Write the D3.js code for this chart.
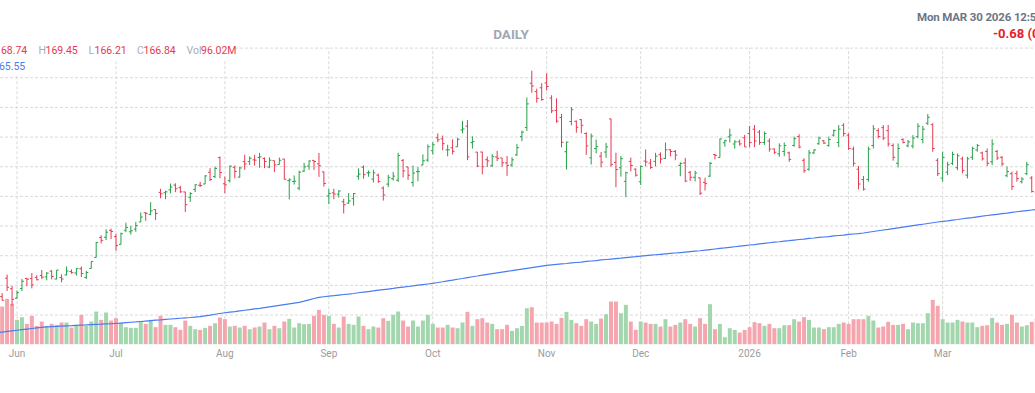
<!DOCTYPE html>
<html><head><meta charset="utf-8">
<script src="https://cdn.jsdelivr.net/npm/d3@7"></script>
<style>
html,body{margin:0;padding:0;background:#fff;overflow:hidden}
svg{display:block;font-family:Roboto,"Noto Sans",sans-serif}
</style>
</head><body>
<svg id="c" width="1035" height="393"></svg>
<script>
// ---------- DATA ----------
const dates = [
"2025-05-27","2025-05-28","2025-05-29","2025-05-30",
"2025-06-02","2025-06-03","2025-06-04","2025-06-05","2025-06-06","2025-06-09","2025-06-10","2025-06-11","2025-06-12","2025-06-13",
"2025-06-16","2025-06-17","2025-06-18","2025-06-20","2025-06-23","2025-06-24","2025-06-25","2025-06-26","2025-06-27","2025-06-30",
"2025-07-01","2025-07-02","2025-07-03","2025-07-07","2025-07-08","2025-07-09","2025-07-10","2025-07-11","2025-07-14","2025-07-15",
"2025-07-16","2025-07-17","2025-07-18","2025-07-21","2025-07-22","2025-07-23","2025-07-24","2025-07-25","2025-07-28","2025-07-29",
"2025-07-30","2025-07-31",
"2025-08-01","2025-08-04","2025-08-05","2025-08-06","2025-08-07","2025-08-08","2025-08-11","2025-08-12","2025-08-13","2025-08-14",
"2025-08-15","2025-08-18","2025-08-19","2025-08-20","2025-08-21","2025-08-22","2025-08-25","2025-08-26","2025-08-27","2025-08-28","2025-08-29",
"2025-09-02","2025-09-03","2025-09-04","2025-09-05","2025-09-08","2025-09-09","2025-09-10","2025-09-11","2025-09-12","2025-09-15",
"2025-09-16","2025-09-17","2025-09-18","2025-09-19","2025-09-22","2025-09-23","2025-09-24","2025-09-25","2025-09-26","2025-09-29","2025-09-30",
"2025-10-01","2025-10-02","2025-10-03","2025-10-06","2025-10-07","2025-10-08","2025-10-09","2025-10-10","2025-10-13","2025-10-14",
"2025-10-15","2025-10-16","2025-10-17","2025-10-20","2025-10-21","2025-10-22","2025-10-23","2025-10-24","2025-10-27","2025-10-28",
"2025-10-29","2025-10-30","2025-10-31",
"2025-11-03","2025-11-04","2025-11-05","2025-11-06","2025-11-07","2025-11-10","2025-11-11","2025-11-12","2025-11-13","2025-11-14",
"2025-11-17","2025-11-18","2025-11-19","2025-11-20","2025-11-21","2025-11-24","2025-11-25","2025-11-26","2025-11-28",
"2025-12-01","2025-12-02","2025-12-03","2025-12-04","2025-12-05","2025-12-08","2025-12-09","2025-12-10","2025-12-11","2025-12-12",
"2025-12-15","2025-12-16","2025-12-17","2025-12-18","2025-12-19","2025-12-22","2025-12-23","2025-12-24","2025-12-26","2025-12-29",
"2025-12-30","2025-12-31",
"2026-01-02","2026-01-05","2026-01-06","2026-01-07","2026-01-08","2026-01-09","2026-01-12","2026-01-13","2026-01-14","2026-01-15",
"2026-01-16","2026-01-20","2026-01-21","2026-01-22","2026-01-23","2026-01-26","2026-01-27","2026-01-28","2026-01-29","2026-01-30",
"2026-02-02","2026-02-03","2026-02-04","2026-02-05","2026-02-06","2026-02-09","2026-02-10","2026-02-11","2026-02-12","2026-02-13",
"2026-02-17","2026-02-18","2026-02-19","2026-02-20","2026-02-23","2026-02-24","2026-02-25","2026-02-26","2026-02-27",
"2026-03-02","2026-03-03","2026-03-04","2026-03-05","2026-03-06","2026-03-09","2026-03-10","2026-03-11","2026-03-12","2026-03-13",
"2026-03-16","2026-03-17","2026-03-18","2026-03-19","2026-03-20","2026-03-23","2026-03-24","2026-03-25","2026-03-26","2026-03-27",
"2026-03-30"
];
const opens = [
134.15,136.03,142.25,138.72,135.49,138.78,142.19,142.17,142.51,143.19,
142.69,144.61,141.97,142.48,143.35,144.49,144.01,145.45,142.50,145.56,
149.27,155.98,156.04,158.37,156.29,153.66,158.41,157.90,158.80,161.22,
164.32,163.72,165.37,171.19,171.06,172.02,173.64,172.75,171.34,169.53,
172.19,173.61,174.02,177.96,176.51,182.90,174.09,175.16,179.62,176.33,
181.56,181.57,182.16,182.96,182.62,179.75,181.88,180.60,182.43,175.17,
174.85,172.61,178.35,180.06,181.98,180.82,178.11,170.00,171.06,170.57,
168.03,167.55,169.08,176.64,179.68,177.77,175.67,177.00,172.64,173.98,
175.77,175.30,181.97,179.77,174.48,178.17,180.43,182.08,185.24,189.60,
189.19,185.50,186.23,186.57,192.23,193.51,187.97,184.77,184.80,182.23,
180.18,183.13,182.79,181.14,180.42,183.84,189.99,193.05,207.98,205.15,
206.45,208.08,203.00,198.77,196.42,184.90,195.10,195.16,195.72,191.05,
182.86,185.97,183.38,184.79,195.95,181.24,179.49,174.91,181.63,179.01,
174.76,181.76,181.08,181.63,183.89,182.64,185.56,184.97,180.28,181.11,
177.94,176.26,176.10,174.53,176.67,183.92,182.97,187.94,189.92,187.50,
188.24,189.57,191.0,192.5,191.5,188.0,188.5,185.8,184.2,185.0,
184.5,187.0,190.0,182.0,179.0,184.5,187.6,188.6,187.0,190.5,
188.0,193.8,190.5,185.8,179.0,175.5,175.5,187.0,192.0,193.0,
192.0,187.0,181.0,189.0,186.9,186.8,190.0,189.0,194.5,194.0,
182.0,176.0,178.0,181.0,179.5,182.5,177.0,183.0,185.5,184.5,
185.0,181.5,185.0,183.0,176.8,177.5,177.5,174.8,177.5,176.0,
171.0,168.74
];
const highs = [
135.66,137.25,143.49,139.62,138.12,142.00,142.39,144.00,143.27,145.00,
144.29,144.99,145.00,143.58,146.18,145.22,145.65,146.20,144.78,147.96,
154.45,156.72,158.71,158.99,157.20,157.61,160.98,159.91,161.20,164.42,
164.50,167.89,165.49,172.40,171.75,174.16,174.25,173.38,171.39,171.26,
173.96,174.72,177.00,179.38,179.89,183.30,176.54,180.26,180.26,179.89,
183.88,183.30,183.85,184.50,183.00,183.03,181.90,182.94,182.50,175.92,
176.90,178.50,181.14,182.00,182.00,184.47,178.15,172.38,172.41,171.86,
169.03,170.96,170.98,179.29,180.28,178.60,178.85,177.50,173.20,177.10,
178.08,184.55,182.42,179.78,180.26,179.77,184.00,187.35,188.14,191.05,
190.36,187.23,189.06,189.60,195.30,195.62,190.11,184.80,184.87,183.28,
184.10,185.20,182.79,183.44,183.03,187.47,192.00,203.15,212.19,206.16,
207.97,211.34,203.97,202.92,197.62,188.32,199.94,195.42,195.89,191.44,
191.01,189.00,184.80,187.86,196.00,184.56,183.50,178.16,182.91,179.29,
180.30,185.66,182.45,184.52,184.66,188.00,185.72,185.48,181.32,182.82,
178.42,178.49,176.13,176.15,181.45,184.16,189.33,188.91,192.69,188.76,
188.99,190.56,193.6,193.9,192.2,191.7,189.4,186.0,187.7,188.0,
184.9,190.0,190.8,182.7,185.5,185.7,190.0,188.8,190.0,192.4,
193.9,194.5,191.1,186.6,180.1,176.7,186.6,193.9,192.8,193.9,
193.9,187.7,187.7,189.4,188.8,190.5,194.5,193.6,197.6,194.5,
182.7,184.9,181.5,184.9,184.3,183.2,183.2,186.6,187.5,184.9,
186.0,189.1,185.5,183.4,179.9,178.2,178.5,176.3,181.5,176.7,
172.0,169.45
];
const lows = [
133.31,134.79,137.91,132.92,135.40,137.95,139.55,138.83,141.51,141.94,
141.53,141.87,141.85,140.85,143.20,143.78,143.12,142.65,142.03,145.50,
149.26,154.00,155.08,155.47,151.49,153.63,157.77,156.94,157.90,161.16,
161.61,163.47,161.90,169.20,168.90,170.83,171.26,171.00,164.58,167.97,
171.30,172.96,173.97,175.02,176.04,175.93,170.89,174.52,175.90,176.20,
178.80,180.40,180.25,179.46,179.35,179.35,178.04,180.59,175.49,168.80,
173.82,171.90,178.12,178.80,178.80,176.41,173.15,167.22,168.89,169.41,
164.07,167.35,166.73,175.46,175.78,176.45,174.51,174.38,168.41,172.96,
175.18,174.71,176.21,175.40,173.13,174.93,180.32,181.48,183.90,188.06,
185.38,183.33,184.00,186.54,191.06,182.05,185.96,179.70,177.29,179.77,
179.75,181.73,179.80,176.76,179.79,183.50,188.43,191.91,204.78,201.41,
202.07,205.56,197.93,194.65,186.38,178.91,193.79,191.30,191.13,183.85,
180.58,184.32,179.65,182.83,179.85,172.93,176.48,169.55,178.24,176.50,
173.68,180.00,179.11,179.96,180.91,182.40,183.32,182.04,176.62,174.62,
175.03,174.90,170.31,171.82,176.34,182.35,182.90,186.59,188.00,185.91,
186.93,186.49,186.4,186.4,187.2,187.2,184.9,184.1,183.2,183.4,
181.5,186.6,186.0,177.8,178.5,184.1,187.2,187.5,186.6,190.0,
186.4,190.0,185.5,179.9,172.2,171.8,174.8,186.0,189.4,188.8,
186.6,181.9,179.6,187.7,186.4,186.0,189.4,187.7,193.9,184.9,
176.7,174.8,177.0,180.4,178.7,177.6,175.9,182.1,184.9,181.9,
180.1,180.4,182.1,180.1,176.3,172.0,174.8,174.2,177.0,171.1,
167.0,166.21
];
const closes = [
135.50,134.81,139.19,135.13,137.38,141.22,141.92,139.99,141.72,142.63,
143.96,142.83,145.00,141.97,144.69,144.12,145.48,143.85,144.17,147.90,
154.31,155.02,157.75,157.99,153.30,157.25,159.34,158.24,160.00,162.88,
164.10,164.92,164.07,170.70,171.37,173.00,172.41,171.38,167.03,170.78,
173.74,173.50,176.75,175.51,179.27,177.87,173.72,180.00,178.26,179.42,
180.77,182.70,182.06,183.16,181.59,182.02,180.45,182.01,175.64,175.40,
174.98,177.99,179.81,181.77,181.60,180.17,174.18,170.78,170.62,171.66,
167.02,168.31,170.76,177.33,177.17,177.82,177.75,174.88,170.29,176.24,
176.67,183.61,178.43,176.97,177.69,178.19,181.85,186.58,187.24,188.89,
187.62,185.54,185.04,189.11,192.57,183.16,188.32,180.03,179.83,181.81,
183.22,182.64,181.16,180.28,182.16,186.26,191.49,201.03,207.04,202.89,
202.49,206.88,198.69,195.21,188.08,188.15,199.05,193.16,193.80,186.86,
190.17,186.60,181.36,186.52,180.64,178.88,182.55,177.82,180.26,177.00,
179.92,181.46,179.59,183.38,182.41,185.55,184.97,183.78,180.93,175.02,
176.29,177.72,170.94,174.14,180.99,183.69,189.21,188.61,190.53,188.22,
187.54,186.50,188.0,188.5,188.0,191.0,185.8,184.7,186.9,187.0,
182.3,189.3,186.5,178.5,184.5,185.5,189.5,187.8,189.0,192.0,
192.5,191.0,186.0,181.0,174.0,172.3,185.8,192.6,190.0,189.5,
187.5,183.0,186.0,188.0,188.2,189.5,193.5,192.5,196.5,186.0,
177.5,183.0,180.5,184.0,183.5,178.5,182.5,186.0,187.0,182.5,
181.0,187.5,182.8,180.8,178.2,173.2,175.8,175.7,180.5,171.5,
167.52,166.84
];
// volume in millions of shares
const volumes = [
192,339,408,363,219,243,183,255,165,204,
165,183,174,195,195,150,174,264,165,204,
294,219,285,213,234,195,153,147,147,204,
183,219,153,255,174,174,153,129,213,165,
135,129,147,165,189,240,225,159,165,150,
165,135,150,159,195,135,165,144,204,228,
150,189,180,183,255,309,264,255,183,150,
249,183,174,249,165,135,159,150,234,210,
264,294,213,159,213,159,213,264,183,150,
150,174,150,144,195,291,165,225,234,195,
183,135,135,174,120,144,165,324,333,195,
195,195,204,183,237,291,219,189,165,225,
204,183,231,270,384,384,279,354,204,129,
204,195,183,183,159,225,159,174,195,225,
183,159,234,183,360,135,183,63,144,129,
105,129,153,198,189,165,183,144,144,171,
171,225,204,243,219,150,150,135,153,153,
183,195,183,225,225,225,255,213,150,159,
201,174,174,183,135,195,189,189,279,399,
345,225,195,195,219,204,195,195,153,165,
171,237,195,174,183,264,195,159,171,201,
230,96.02
];
// 200-day moving average
const ma200 = [
123.9,124.1,124.3,124.5,124.7,124.9,125.1,125.3,125.5,125.7,
125.85,125.95,126.0,126.1,126.2,126.25,126.35,126.45,126.5,126.6,
126.7,126.75,126.85,126.9,127.0,127.1,127.25,127.4,127.5,127.65,
127.8,127.95,128.1,128.2,128.35,128.5,128.6,128.75,128.9,129.0,
129.15,129.3,129.55,129.8,130.1,130.35,130.6,130.8,131.0,131.25,
131.45,131.65,131.9,132.1,132.35,132.6,132.85,133.1,133.35,133.6,
133.85,134.1,134.5,134.95,135.4,135.8,136.0,136.2,136.35,136.55,
136.75,136.9,137.1,137.35,137.55,137.75,137.95,138.2,138.4,138.6,
138.8,139.05,139.25,139.45,139.65,139.9,140.1,140.3,140.5,140.8,
141.05,141.35,141.6,141.9,142.15,142.45,142.75,143.0,143.3,143.55,
143.8,144.05,144.3,144.55,144.8,145.05,145.3,145.55,145.8,146.05,
146.3,146.55,146.75,146.9,147.05,147.2,147.4,147.55,147.7,147.9,
148.05,148.2,148.4,148.55,148.7,148.85,149.0,149.2,149.35,149.5,
149.7,149.85,150.0,150.15,150.3,150.45,150.6,150.75,150.9,151.05,
151.2,151.35,151.5,151.7,151.9,152.1,152.3,152.45,152.65,152.85,
153.05,153.25,153.45,153.6,153.8,154.0,154.2,154.4,154.55,154.75,
154.9,155.1,155.3,155.45,155.65,155.8,156.0,156.15,156.3,156.5,
156.65,156.8,157.0,157.15,157.3,157.5,157.75,158.0,158.25,158.5,
158.7,158.95,159.2,159.45,159.7,159.95,160.2,160.45,160.7,160.95,
161.2,161.4,161.6,161.85,162.05,162.3,162.5,162.7,162.95,163.15,
163.4,163.6,163.8,164.0,164.2,164.45,164.65,164.85,165.05,165.25,
165.4,165.55
];
const tickDates = ["2025-06-02","2025-07-01","2025-08-01","2025-09-02","2025-10-01","2025-11-03","2025-12-01","2026-01-02","2026-02-02","2026-03-02"];
const tickLabels = ["Jun","Jul","Aug","Sep","Oct","Nov","Dec","2026","Feb","Mar"];
const gridPrices = [130,140,150,160,170,180,190,200,210,220];

// ---------- CHART ----------
const W = 1035;
const svg = d3.select("#c");
const bars = dates.map((d,i)=>({d, o:opens[i], h:highs[i], l:lows[i], c:closes[i], v:volumes[i], ma:ma200[i]}));

const step = 4.95, firstCenter = -2.8;
const x = d3.scaleBand().domain(dates)
  .range([firstCenter - step/2, firstCenter - step/2 + step*dates.length])
  .paddingInner(0.2).paddingOuter(0.1);
const cx = d => x(d) + x.bandwidth()/2;
const yP = d3.scaleLinear().domain([120, 220]).range([344.2, 47.6]);
const yV = d3.scaleLinear().domain([0, 900]).range([344.2, 244.2]);

const upC = "#26a047", dnC = "#e63950";
const upV = "#a2d6ad", dnV = "#f4a5ad";
const gridColor = "#d9d9d9";

// horizontal grid
const gy = svg.append("g").call(d3.axisLeft(yP).tickValues(gridPrices).tickSize(-W).tickFormat(""));
gy.select(".domain").remove();
gy.selectAll("line").attr("stroke", gridColor).attr("stroke-dasharray","3,2");
// vertical grid
const gx = svg.append("g").attr("transform",`translate(0,${yP(120)})`)
  .call(d3.axisBottom(x).tickValues(tickDates).tickSize(-(yP(120)-yP(220))).tickFormat(""));
gx.select(".domain").remove();
gx.selectAll("line").attr("stroke", gridColor).attr("stroke-dasharray","3,2");

// month labels
const gl = svg.append("g").attr("transform",`translate(0,${yP(120)})`)
  .call(d3.axisBottom(x).tickValues(tickDates).tickSize(0).tickPadding(6)
    .tickFormat(d => tickLabels[tickDates.indexOf(d)]));
gl.select(".domain").remove();
gl.selectAll("text").attr("fill","#9b9b9b").style("font-size","10px").style("font-family","Roboto,sans-serif");

// legend backgrounds (cover grid)
svg.append("rect").attr("x",-30).attr("y",40).attr("width",264).attr("height",20).attr("fill","#fff");
svg.append("rect").attr("x",-30).attr("y",60).attr("width",56).attr("height",16).attr("fill","#fff");

// volume
svg.append("g").selectAll("rect").data(bars).join("rect")
  .attr("x", d => x(d.d)).attr("width", x.bandwidth())
  .attr("y", d => yV(d.v)).attr("height", d => yV(0) - yV(d.v))
  .attr("fill", d => d.c >= d.o ? upV : dnV);

// OHLC bars
svg.append("g").attr("fill","none").attr("stroke-width",1)
  .selectAll("path").data(bars).join("path")
  .attr("stroke", d => d.c >= d.o ? upC : dnC)
  .attr("d", d => {
    const c = cx(d.d);
    return `M${c},${yP(d.h)}V${yP(d.l)}M${c-2},${yP(d.o)}H${c}M${c},${yP(d.c)}H${c+2}`;
  });

// MA line
svg.append("path").datum(bars)
  .attr("fill","none").attr("stroke","#4a7bf2").attr("stroke-width",1.2)
  .attr("d", d3.line().x(d => cx(d.d)).y(d => yP(d.ma)));

// header texts
svg.append("text").attr("x",511).attr("y",38.5).attr("text-anchor","middle")
  .attr("fill","#a1a8b5").style("font-size","13.5px").style("font-weight","700").text("DAILY");
svg.append("text").attr("x",917).attr("y",20.5)
  .attr("fill","#6c7585").style("font-size","11.5px").style("font-weight","700")
  .style("letter-spacing","-0.15px").text("Mon MAR 30 2026 12:55");
svg.append("text").attr("x",993).attr("y",37.5)
  .attr("fill","#e3202b").style("font-size","13px").style("font-weight","700").text("-0.68 (0.41%)");

// legend
const last = bars[bars.length-1];
const fmt = d3.format(".2f");
const leg = svg.append("g").style("font-size","10.5px");
const row1 = [
  {lab:"O", lx:-14, val:fmt(last.o), vx:-5},
  {lab:"H", lx:38.5, val:fmt(last.h), vx:45.5},
  {lab:"L", lx:88.5, val:fmt(last.l), vx:94.5},
  {lab:"C", lx:137, val:fmt(last.c), vx:143.5},
  {lab:"Vol", lx:186.5, val:fmt(last.v)+"M", vx:201}
];
row1.forEach(r => {
  leg.append("text").attr("x",r.lx).attr("y",54).attr("fill","#a9adb6").text(r.lab);
  leg.append("text").attr("x",r.vx).attr("y",54).attr("fill", last.c >= last.o ? upC : dnC).text(r.val);
});
leg.append("text").attr("x",-50).attr("y",69.5).attr("fill","#a9adb6").text("MA200");
leg.append("text").attr("x",-7).attr("y",69.5).attr("fill","#4a7bf2").text(fmt(last.ma));
</script>
</body></html>
